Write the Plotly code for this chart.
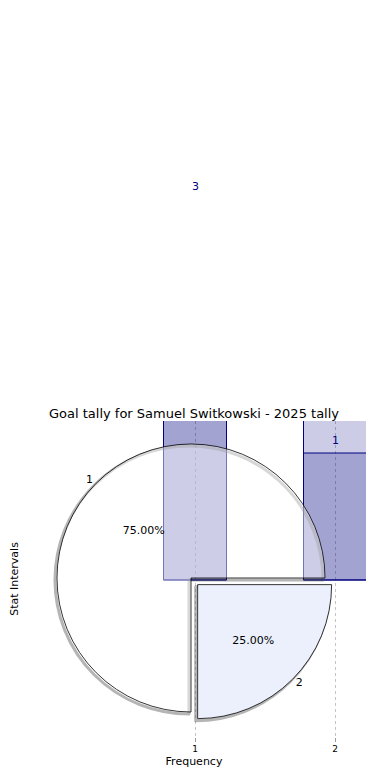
import plotly.graph_objects as go

# ---- data ----
intervals = [1, 2]
tally_counts = [3, 1]          # labelled histogram bars
backdrop_counts = [3, 3]       # translucent backing bars (clipped at top of axes)
pie_labels = ["1", "2"]
pie_values = [3, 1]
title_text = "Goal tally for Samuel Switkowski - 2025 tally"
x_label = "Frequency"
y_label = "Stat Intervals"

FONT = "DejaVu Sans"
OFF = 8  # default page body margin
W, H = 390 - OFF, 780 - OFF
# target pixel positions in the page
P_LEFT, P_RIGHT, P_TOP, P_BOTTOM = 22, 366, 421, 737
P_FULLTOP = 20      # extended area (for labels above the axes)
ZERO_Y = 580        # pixel of y = 0
PX_PER_Y = 127
PX_PER_X = 140

ML = P_LEFT - OFF
MR = W - (P_RIGHT - OFF)
MT = P_FULLTOP - OFF
MB = H - (P_BOTTOM - OFF)
PW, PH = P_RIGHT - P_LEFT, P_BOTTOM - P_FULLTOP

fig = go.Figure()

fig.add_trace(go.Bar(
    x=intervals, y=backdrop_counts, width=0.45,
    marker=dict(color="rgba(0,0,128,0.2)", line=dict(color="#000080", width=1)),
    hoverinfo="skip", showlegend=False))
fig.add_trace(go.Bar(
    x=intervals, y=tally_counts, width=0.45,
    marker=dict(color="rgba(0,0,128,0.2)", line=dict(color="#000080", width=1)),
    hoverinfo="skip", showlegend=False))

# invisible anchor trace for the taller twin axes used by the bar labels
fig.add_trace(go.Scatter(
    x=intervals, y=tally_counts, mode="markers", xaxis="x2", yaxis="y2",
    marker=dict(opacity=0), hoverinfo="skip", showlegend=False))

# pie placement (fractions of the full plot area)
pull = [0, 0.07]
R_BOX = 143.4
cx, cy = (191 - P_LEFT) / PW, 1 - (578 - P_FULLTOP) / PH
halfw, halfh = R_BOX / PW, R_BOX / PH
dom = dict(x=[cx - halfw, cx + halfw], y=[cy - halfh, cy + halfh])
sdx, sdy = -2 / PW, -2 / PH
dom_shadow = dict(x=[cx - halfw + sdx, cx + halfw + sdx],
                  y=[cy - halfh + sdy, cy + halfh + sdy])

common = dict(labels=pie_labels, values=pie_values, sort=False,
              direction="counterclockwise", rotation=180, pull=pull,
              hoverinfo="skip", showlegend=False)

fig.add_trace(go.Pie(
    domain=dom_shadow, **common,
    marker=dict(colors=["rgba(0,0,0,0)", "rgba(0,0,0,0)"],
                line=dict(color="rgba(70,70,70,0.4)", width=3)),
    textinfo="none"))
fig.add_trace(go.Pie(
    domain=dom, **common,
    marker=dict(colors=["rgba(255,255,255,0.46)", "#ebf0fc"],
                line=dict(color="black", width=0.8)),
    texttemplate="%{percent:.2%}", textposition="inside",
    insidetextorientation="horizontal",
    textfont=dict(family=FONT, size=11, color="black")))
fig.add_trace(go.Pie(
    domain=dom, **common,
    marker=dict(colors=["rgba(0,0,0,0)", "rgba(0,0,0,0)"],
                line=dict(width=0)),
    textinfo="label", textposition="outside",
    outsidetextfont=dict(family=FONT, size=11, color="black")))

annotations = [
    dict(x=xv, y=yv, xref="x2", yref="y2", text=str(yv), showarrow=False,
         yanchor="bottom", yshift=4,
         font=dict(family=FONT, size=11, color="#000080"))
    for xv, yv in zip(intervals, tally_counts)
]

xrange = [1 - (195 - P_LEFT) / PX_PER_X, 2 + (P_RIGHT - 335) / PX_PER_X]
y_bottom = -(P_BOTTOM - ZERO_Y) / PX_PER_Y
main_dom_top = (P_BOTTOM - P_TOP) / PH

fig.update_layout(
    width=W, height=H,
    margin=dict(l=ML, r=MR, t=MT, b=MB, autoexpand=False),
    paper_bgcolor="white", plot_bgcolor="rgba(0,0,0,0)",
    barmode="overlay",
    font=dict(family=FONT, color="black"),
    title=dict(text=title_text, x=0.5, xref="paper", xanchor="center",
               y=1 - (413 - OFF) / H, yref="container", yanchor="middle",
               font=dict(family=FONT, size=13, color="black")),
    annotations=annotations,
    xaxis=dict(range=xrange, anchor="y",
               tickvals=intervals, ticktext=[str(v) for v in intervals],
               showgrid=True, gridcolor="#c4c4c4", griddash="dot", gridwidth=1,
               ticks="outside", ticklen=3.5, tickcolor="#999",
               tickfont=dict(family=FONT, size=9, color="black"),
               showline=False, zeroline=False,
               title=dict(text=x_label, standoff=4,
                          font=dict(family=FONT, size=11, color="black"))),
    yaxis=dict(domain=[0, main_dom_top], anchor="x",
               range=[y_bottom, (ZERO_Y - P_TOP) / PX_PER_Y],
               showticklabels=False, showgrid=False, zeroline=False,
               showline=False, ticks="",
               title=dict(text=y_label, standoff=0,
                          font=dict(family=FONT, size=11, color="black"))),
    xaxis2=dict(range=xrange, anchor="y2", visible=False, showgrid=False,
                zeroline=False),
    yaxis2=dict(domain=[0, 1], anchor="x2",
                range=[y_bottom, (ZERO_Y - P_FULLTOP) / PX_PER_Y],
                visible=False, showgrid=False, zeroline=False),
)

fig.write_html("out.html")
